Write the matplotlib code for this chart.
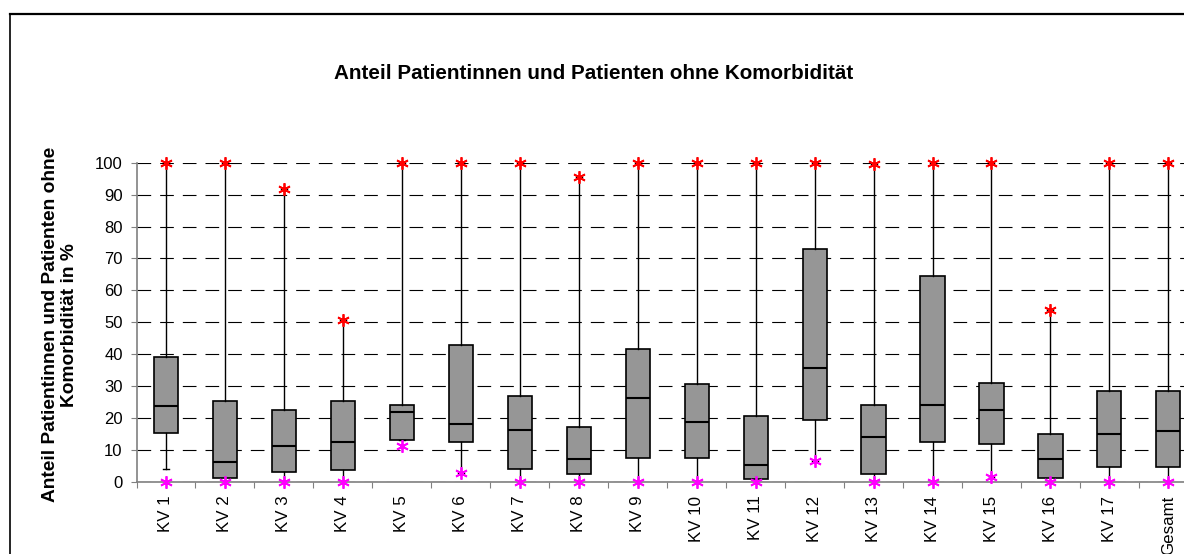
import numpy as np
import matplotlib
matplotlib.use("Agg")
import matplotlib.pyplot as plt
from matplotlib.lines import Line2D

plt.rcParams['font.family'] = ['Liberation Sans', 'DejaVu Sans']

labels = ["KV 1", "KV 2", "KV 3", "KV 4", "KV 5", "KV 6", "KV 7", "KV 8", "KV 9",
          "KV 10", "KV 11", "KV 12", "KV 13", "KV 14", "KV 15", "KV 16", "KV 17", "Gesamt"]
q1 = [15.2, 1.3, 2.9, 3.7, 13.1, 12.3, 4.1, 2.5, 7.4, 7.4, 0.8, 19.2, 2.5, 12.3, 11.8, 1.3, 4.5, 4.5]
median = [23.8, 6.1, 11.1, 12.3, 22.0, 18.0, 16.3, 7.0, 26.1, 18.7, 5.3, 35.8, 14.0, 24.0, 22.4, 7.0, 15.0, 15.9]
q3 = [39.2, 25.3, 22.4, 25.3, 24.0, 42.8, 27.0, 17.1, 41.7, 30.6, 20.5, 73.0, 24.0, 64.6, 30.9, 15.0, 28.5, 28.5]
whisker_lo = [4.1, 0, 0, 0, 13.1, 2.6, 0, 0, 0, 0, 0, 6.6, 0, 0, 1.5, 0, 0, 0]
maximum = [100, 100, 91.8, 50.7, 100, 100, 100, 95.5, 100, 100, 100, 100, 99.5, 100, 100, 53.9, 100, 100]
minimum = [0, 0, 0, 0, 11.2, 2.6, 0, 0, 0, 0, 0, 6.6, 0, 0, 1.5, 0, 0, 0]

fig = plt.figure(figsize=(11.84, 5.54), dpi=100)
ax = fig.add_axes([0.1153, 0.1305, 0.8964, 0.5758])

pos = np.arange(1, len(labels) + 1)
stats = []
for i in range(len(labels)):
    stats.append(dict(med=median[i], q1=q1[i], q3=q3[i],
                      whislo=whisker_lo[i], whishi=maximum[i], fliers=[]))

ax.bxp(stats, positions=pos, widths=0.41, patch_artist=True,
       boxprops=dict(facecolor="#969696", edgecolor="black", linewidth=1.2),
       medianprops=dict(color="black", linewidth=1.5),
       whiskerprops=dict(color="black", linewidth=1.0),
       capprops=dict(color="black", linewidth=1.0), capwidths=0.1,
       showfliers=False, zorder=3)

asterisk = (6, 2, 0)
ax.plot(pos, maximum, linestyle="none", marker=asterisk, markersize=9,
        markeredgecolor="#ff0000", markeredgewidth=1.3, clip_on=False, zorder=4)
ax.plot(pos, minimum, linestyle="none", marker=asterisk, markersize=9,
        markeredgecolor="#ff00ff", markeredgewidth=1.3, clip_on=False, zorder=4)

ax.set_ylim(0, 100)
ax.set_xlim(0.5, len(labels) + 0.5)
ax.set_yticks(range(0, 101, 10))
ax.yaxis.grid(True, color="black", linewidth=0.8, linestyle=(0, (12.3, 8.1)))
ax.set_axisbelow(True)

ax.set_xticks(np.arange(0.5, len(labels) + 1, 1.0))
ax.set_xticklabels([])
ax.set_xticks(pos, minor=True)
ax.set_xticklabels(labels, minor=True, rotation=90, fontsize=12.2)
ax.tick_params(axis="x", which="major", direction="out", length=4, color="#808080")
ax.tick_params(axis="x", which="minor", length=0, pad=10)
ax.tick_params(axis="y", direction="out", length=4, color="#808080", labelsize=12, pad=6)

for s in ["top", "right"]:
    ax.spines[s].set_visible(False)
for s in ["left", "bottom"]:
    ax.spines[s].set_color("#808080")
    ax.spines[s].set_linewidth(1.2)

fig.text(0.5017, 0.868, "Anteil Patientinnen und Patienten ohne Komorbidität",
         ha="center", va="center", fontsize=14.9, fontweight="bold")
fig.text(0.0507, 0.414, "Anteil Patientinnen und Patienten ohne\nKomorbidität in %",
         rotation=90, ha="center", va="center", multialignment="center",
         fontsize=13.8, fontweight="bold", linespacing=1.2)

fig.add_artist(Line2D([9.5 / 1184, 1], [1 - 14 / 554, 1 - 14 / 554],
                      transform=fig.transFigure, color="black", linewidth=1.6))
fig.add_artist(Line2D([9.5 / 1184, 9.5 / 1184], [0, 1 - 14 / 554],
                      transform=fig.transFigure, color="black", linewidth=1.2))

fig.savefig("out.png", dpi=100)
